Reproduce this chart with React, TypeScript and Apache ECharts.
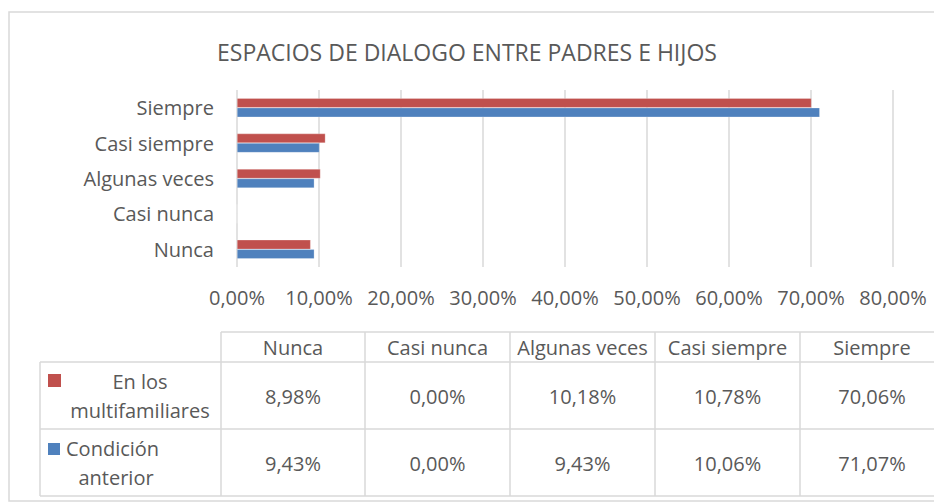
import React, { useEffect, useRef } from "react";
import * as echarts from "echarts";

const categories = ["Nunca", "Casi nunca", "Algunas veces", "Casi siempre", "Siempre"];
const seriesNames = ["En los multifamiliares", "Condición anterior"];
const multifamiliares = [8.98, 0.0, 10.18, 10.78, 70.06];
const condicionAnterior = [9.43, 0.0, 9.43, 10.06, 71.07];
const xTicks = { min: 0, max: 80, interval: 10 };
const titleText = "ESPACIOS DE DIALOGO ENTRE PADRES E HIJOS";

const RED = "#C0504D";
const BLUE = "#4F81BD";
const TXT = "#595959";
const LINE = "#d9d9d9";
const FONT = "'Open Sans', sans-serif";

const fmt = (v: number) => v.toFixed(2).replace(".", ",") + "%";

export default function App() {
  const ref = useRef<HTMLDivElement>(null);
  useEffect(() => {
    if (!ref.current) return;
    const chart = echarts.init(ref.current, undefined, { renderer: "svg" });

    const colX = [221, 365, 510, 655, 800, 944];
    const rowY = [332, 362, 429, 496];
    const labelLeft = 40;
    const g: any[] = [];
    g.push({ type: "rect", shape: { x: 9, y: 12, width: 960, height: 489 }, style: { fill: "none", stroke: LINE, lineWidth: 1.5 }, silent: true });
    g.push({ type: "line", shape: { x1: colX[0], y1: rowY[0], x2: colX[5], y2: rowY[0] }, style: { stroke: LINE, lineWidth: 1.5 } });
    for (let i = 1; i < rowY.length; i++) {
      g.push({ type: "line", shape: { x1: labelLeft, y1: rowY[i], x2: colX[5], y2: rowY[i] }, style: { stroke: LINE, lineWidth: 1.5 } });
    }
    g.push({ type: "line", shape: { x1: labelLeft, y1: rowY[1], x2: labelLeft, y2: rowY[3] }, style: { stroke: LINE, lineWidth: 1.5 } });
    colX.forEach((x) => {
      g.push({ type: "line", shape: { x1: x, y1: rowY[0], x2: x, y2: rowY[3] }, style: { stroke: LINE, lineWidth: 1.5 } });
    });
    const txt = (text: string, x: number, y: number, align = "center") => ({
      type: "text",
      x,
      y,
      style: { text, fill: TXT, font: `20px ${FONT}`, align, verticalAlign: "middle" },
    });
    categories.forEach((c, i) => {
      g.push(txt(c, (colX[i] + colX[i + 1]) / 2, 347));
    });
    const rows = [multifamiliares, condicionAnterior];
    const rowCenters = [396, 463];
    rows.forEach((vals, r) => {
      vals.forEach((v, i) => {
        g.push(txt(fmt(v), (colX[i] + colX[i + 1]) / 2, rowCenters[r]));
      });
    });
    g.push({ type: "rect", shape: { x: 48, y: 374, width: 13, height: 13 }, style: { fill: RED } });
    g.push({ type: "rect", shape: { x: 48, y: 443, width: 12, height: 12 }, style: { fill: BLUE } });
    g.push(txt("En los", 140, 381));
    g.push(txt("multifamiliares", 140, 410));
    g.push(txt("Condición", 66, 448, "left"));
    g.push(txt("anterior", 116, 477));

    chart.setOption({
      animation: false,
      backgroundColor: "#ffffff",
      title: {
        text: titleText,
        left: "center",
        top: 35,
        textStyle: { color: TXT, fontFamily: FONT, fontSize: 23, fontWeight: "normal" },
      },
      grid: { left: 237, right: 41, top: 90, bottom: 236, containLabel: false },
      xAxis: {
        type: "value",
        min: xTicks.min,
        max: xTicks.max,
        interval: xTicks.interval,
        axisLine: { show: false },
        axisTick: { show: false },
        splitLine: { show: true, lineStyle: { color: LINE, width: 1.5 } },
        axisLabel: { color: TXT, fontFamily: FONT, fontSize: 20, margin: 20, formatter: (v: number) => fmt(v) },
      },
      yAxis: {
        type: "category",
        data: categories,
        axisLine: { show: false },
        axisTick: { show: false },
        splitLine: { show: false },
        axisLabel: { color: TXT, fontFamily: FONT, fontSize: 20, margin: 23 },
      },
      series: [
        {
          name: seriesNames[0],
          type: "bar",
          data: multifamiliares,
          barWidth: 9.5,
          barGap: "0%",
          itemStyle: { color: RED, borderColor: "rgba(255,255,255,0.5)", borderWidth: 0.5 },
        },
        {
          name: seriesNames[1],
          type: "bar",
          data: condicionAnterior,
          barWidth: 9.5,
          barGap: "0%",
          itemStyle: { color: BLUE, borderColor: "rgba(255,255,255,0.5)", borderWidth: 0.5 },
        },
      ],
      graphic: g,
    });
    return () => chart.dispose();
  }, []);
  return (
    <div
      ref={ref}
      style={{ position: "fixed", left: 0, top: 0, width: 934, height: 503, background: "#fff" }}
    />
  );
}
